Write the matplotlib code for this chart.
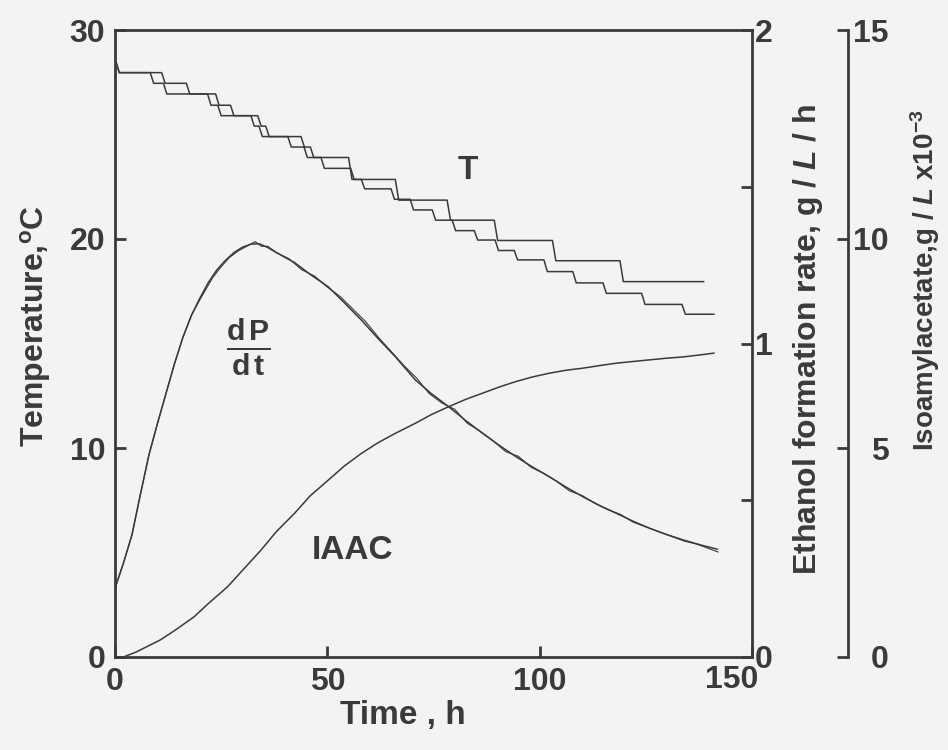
import numpy as np
import matplotlib.pyplot as plt
from matplotlib.transforms import ScaledTranslation

plt.rcParams['font.family'] = ['Liberation Sans', 'DejaVu Sans']
plt.rcParams['font.weight'] = 'bold'
plt.rcParams['axes.labelweight'] = 'bold'
plt.rcParams['mathtext.fontset'] = 'custom'
plt.rcParams['mathtext.rm'] = 'Liberation Sans:bold'
plt.rcParams['mathtext.it'] = 'Liberation Sans:italic:bold'
plt.rcParams['mathtext.bf'] = 'Liberation Sans:bold'

ink = '#3a3a3a'
paper = '#f3f3f1'

# temperature programmes: time of each step (h) and the level reached (degC)
tA_times = [0.0, 0.2, 8.3, 11.4, 21.8, 24.2, 32.0, 33.9, 40.7, 44.5, 55.0,
            66.0, 78.2, 89.3, 103.0, 118.9]
tA_levels = [28.5, 27.96, 27.45, 26.94, 26.4, 25.9, 25.4, 24.9, 24.4, 23.9,
             22.85, 21.86, 20.9, 19.93, 18.96, 17.96]
tA_end = 138.6

tB_times = [0.0, 0.2, 11.0, 16.8, 23.7, 27.2, 33.6, 35.5, 43.8, 46.0, 48.5,
            55.5, 58.0, 65.0, 69.5, 74.7, 79.4, 84.6, 89.5, 94.0, 101.0,
            107.8, 114.9, 124.0, 133.5]
tB_levels = [28.5, 27.96, 27.45, 26.94, 26.4, 25.9, 25.4, 24.9, 24.4, 23.9,
             23.38, 22.85, 22.4, 21.9, 21.39, 20.9, 20.4, 19.95, 19.45, 19.0,
             18.44, 17.9, 17.4, 16.87, 16.4]
tB_end = 141.0

# ethanol formation rate, g/L/h (smoothed curve)
rate_t = [0, 2, 4, 6, 8, 10, 12, 14, 16, 18, 20, 22, 24, 26, 28, 30, 32, 34,
          36, 38, 40, 42.3, 46, 50.2, 54, 58, 62, 66, 70.7, 74.5, 78.6, 82.5,
          86.5, 90.5, 94.4, 98.3, 102.3, 106.2, 110.2, 114, 118.1, 122, 126,
          130, 133.9, 138, 141.8]
rate_fit = [0.219, 0.30, 0.39, 0.52, 0.645, 0.745, 0.84, 0.935, 1.02, 1.09,
            1.145, 1.195, 1.235, 1.265, 1.29, 1.307, 1.317, 1.318, 1.306,
            1.29, 1.275, 1.258, 1.22, 1.181, 1.13, 1.075, 1.015, 0.958, 0.884,
            0.84, 0.798, 0.755, 0.714, 0.675, 0.639, 0.606, 0.575, 0.542,
            0.511, 0.484, 0.458, 0.433, 0.41, 0.39, 0.373, 0.357, 0.344]

# measured rate
meas_t = [0, 2, 4, 6, 8, 10, 12, 14, 16, 18, 20, 23, 25, 27, 29, 31, 33,
          34.5, 36, 38, 41, 44, 47, 50, 53, 56, 59, 62, 65, 68, 71, 74, 77, 80,
          83, 86, 89, 92, 95, 98, 101, 104, 107, 110, 113, 116, 119, 122, 125,
          128, 131, 134, 137, 140, 142]
meas_rate = [0.219, 0.30, 0.39, 0.52, 0.645, 0.745, 0.84, 0.935, 1.02, 1.09,
             1.14, 1.21, 1.245, 1.275, 1.295, 1.31, 1.325, 1.31, 1.31, 1.29,
             1.27, 1.235, 1.215, 1.18, 1.15, 1.11, 1.07, 1.02, 0.975, 0.93,
             0.89, 0.84, 0.81, 0.79, 0.745, 0.72, 0.69, 0.655, 0.64, 0.605,
             0.585, 0.56, 0.53, 0.515, 0.49, 0.47, 0.455, 0.43, 0.415, 0.40,
             0.385, 0.37, 0.36, 0.345, 0.335]

# isoamylacetate, g/L x10^-3
iaac_t = [0, 2, 5, 10.7, 14, 18.6, 22, 26.5, 30, 34.4, 38, 42.3, 46, 50.2, 54,
          58, 62, 66, 70.7, 74.5, 78.6, 82.5, 86.5, 90.5, 94.4, 98.3, 102.3,
          106.2, 110.2, 114, 118.1, 122, 126, 130, 133.9, 138, 141]
iaac = [0, 0.0, 0.12, 0.41, 0.63, 0.96, 1.28, 1.68, 2.07, 2.56, 3.0, 3.44,
        3.86, 4.23, 4.57, 4.87, 5.13, 5.35, 5.59, 5.80, 5.99, 6.16, 6.31, 6.46,
        6.59, 6.70, 6.79, 6.86, 6.91, 6.97, 7.03, 7.07, 7.11, 7.15, 7.18,
        7.23, 7.27]


def step_path(times, levels, t_end, slant=0.8):
    xs, ys = [times[0]], [levels[0]]
    for i in range(1, len(times)):
        xs += [times[i], times[i] + slant]
        ys += [levels[i - 1], levels[i]]
    xs.append(t_end)
    ys.append(levels[-1])
    return xs, ys


fig = plt.figure(figsize=(9.48, 7.5), dpi=100, facecolor=paper)
ax = fig.add_axes([0.1213, 0.124, 0.672, 0.836])
ax.set_facecolor(paper)
ax2 = ax.twinx()
ax3 = ax.twinx()

lw = 1.1
xa, ya = step_path(tA_times, tA_levels, tA_end)
xb, yb = step_path(tB_times, tB_levels, tB_end)
ax.plot(xa, ya, color=ink, lw=lw)
ax.plot(xb, yb, color=ink, lw=lw)

ax2.plot(rate_t, rate_fit, color=ink, lw=lw)
ax2.plot(meas_t, meas_rate, color=ink, lw=0.8)
ax3.plot(iaac_t, iaac, color=ink, lw=lw)

ax.set_xlim(0, 150)
ax.set_ylim(0, 30)
ax2.set_ylim(0, 2)
ax3.set_ylim(0, 15)

spw = 2.0
for a in (ax, ax2, ax3):
    for s in a.spines.values():
        s.set_linewidth(spw)
        s.set_color(ink)
for s in ('left', 'top', 'bottom'):
    ax2.spines[s].set_visible(False)
    ax3.spines[s].set_visible(False)
ax.spines['right'].set_visible(False)
ax3.spines['right'].set_position(('axes', 1.151))

tk = dict(direction='in', length=8, width=spw, color=ink, labelsize=23,
          labelcolor=ink)
ax.set_xticks([0, 50, 100, 150])
ax.set_xticklabels(['0', '50', '100', ''])
ax.set_yticks([0, 10, 20, 30])
ax.tick_params(axis='both', pad=7, **tk)
ax.text(150, 0, '150', transform=ax.transData + ScaledTranslation(-0.2, -0.08, fig.dpi_scale_trans),
        ha='center', va='top', fontsize=23, color=ink)

ax2.set_yticks([0, 0.5, 1, 1.5, 2])
ax2.set_yticklabels(['0', '', '1', '', '2'])
ax2.tick_params(axis='y', pad=2, **tk)

ax3.set_yticks([0, 5, 10, 15])
ax3.tick_params(axis='y', pad=29, **tk)
for lbl in ax3.get_yticklabels():
    lbl.set_horizontalalignment('right')

ax.set_xlabel('Time , h', fontsize=24, color=ink)
ax.xaxis.set_label_coords(0.452, -0.069)
ax.set_ylabel('Temperature,$^{\\mathrm{o}}$C', fontsize=23, color=ink)
ax.yaxis.set_label_coords(-0.124, 0.528)
ax.yaxis.label.set_verticalalignment('center')
ax2.set_ylabel('Ethanol formation rate, g / $\\mathit{L}$ / h', rotation=90,
               fontsize=23, color=ink)
ax2.yaxis.set_label_coords(1.088, 0.506)
ax2.yaxis.label.set_verticalalignment('center')
ax3.set_ylabel('Isoamylacetate,g / $\\mathit{L}$ x10$^{-3}$', rotation=90,
               fontsize=20, color=ink)
ax3.yaxis.set_label_coords(1.272, 0.601)
ax3.yaxis.label.set_verticalalignment('center')

# curve labels
ax.text(83, 23.3, 'T', fontsize=24, color=ink, ha='center', va='center')
ax.text(31.5, 14.8, r'$\frac{\mathrm{d\,P}}{\mathrm{d\,t}}$', fontsize=31,
        color=ink, ha='center', va='center')
ax.text(56, 5.1, 'IAAC', fontsize=24, color=ink, ha='center', va='center')

fig.savefig('out.png', dpi=100, facecolor=paper)
